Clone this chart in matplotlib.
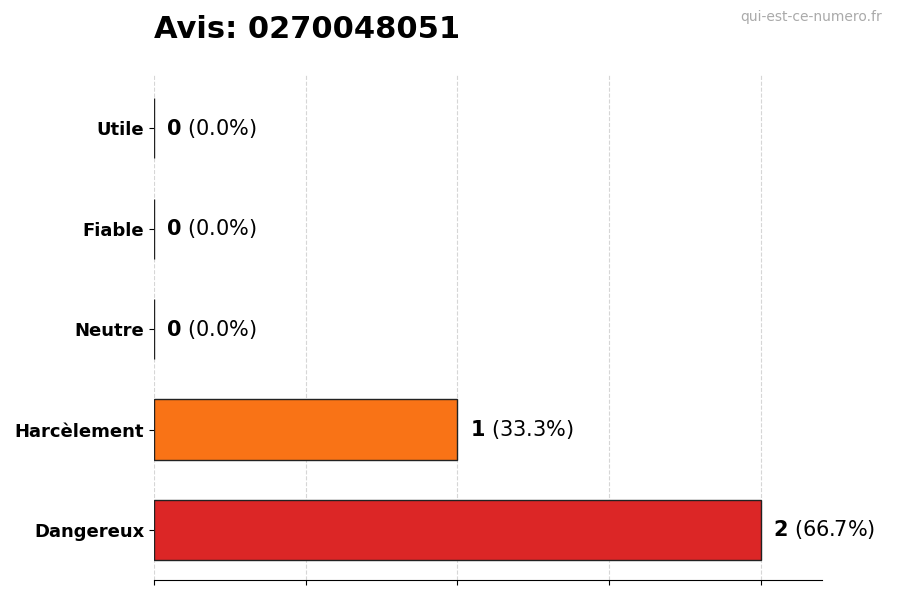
import matplotlib
matplotlib.use("Agg")
import matplotlib.pyplot as plt

categories = ["Dangereux", "Harcèlement", "Neutre", "Fiable", "Utile"]
counts = [2, 1, 0, 0, 0]
percents = [66.7, 33.3, 0.0, 0.0, 0.0]
colors = ["#dc2626", "#f97316", "#9ca3af", "#22c55e", "#16a34a"]

fig = plt.figure(figsize=(9, 6), dpi=100)
ax = fig.add_axes([0.171, 0.033, 0.742, 0.842])
y = range(len(categories))
ax.barh(list(y), counts, height=0.6, color=colors, edgecolor="#222222", linewidth=1)
for i, (c, p) in enumerate(zip(counts, percents)):
    ax.text(c + 0.04, i, f"$\\bf{{{c}}}$ ({p:.1f}%)", va="center", ha="left", fontsize=15)

ax.set_yticks(list(y))
ax.set_yticklabels(categories, fontsize=13, fontweight="bold")
ax.set_xlim(0, 2.2)
ax.set_ylim(-0.5, 4.53)
ax.set_xticks([0, 0.5, 1, 1.5, 2])
ax.set_xticklabels([])
ax.grid(axis="x", linestyle="--", color="#cccccc", alpha=0.8)
ax.set_axisbelow(True)
for s in ["top", "right", "left"]:
    ax.spines[s].set_visible(False)

fig.text(0.171, 0.95, "Avis: 0270048051", fontsize=22, fontweight="bold", ha="left", va="center")
fig.text(0.98, 0.972, "qui-est-ce-numero.fr", fontsize=10, color="#aaaaaa", ha="right", va="center")
fig.savefig("out.png", dpi=100)
